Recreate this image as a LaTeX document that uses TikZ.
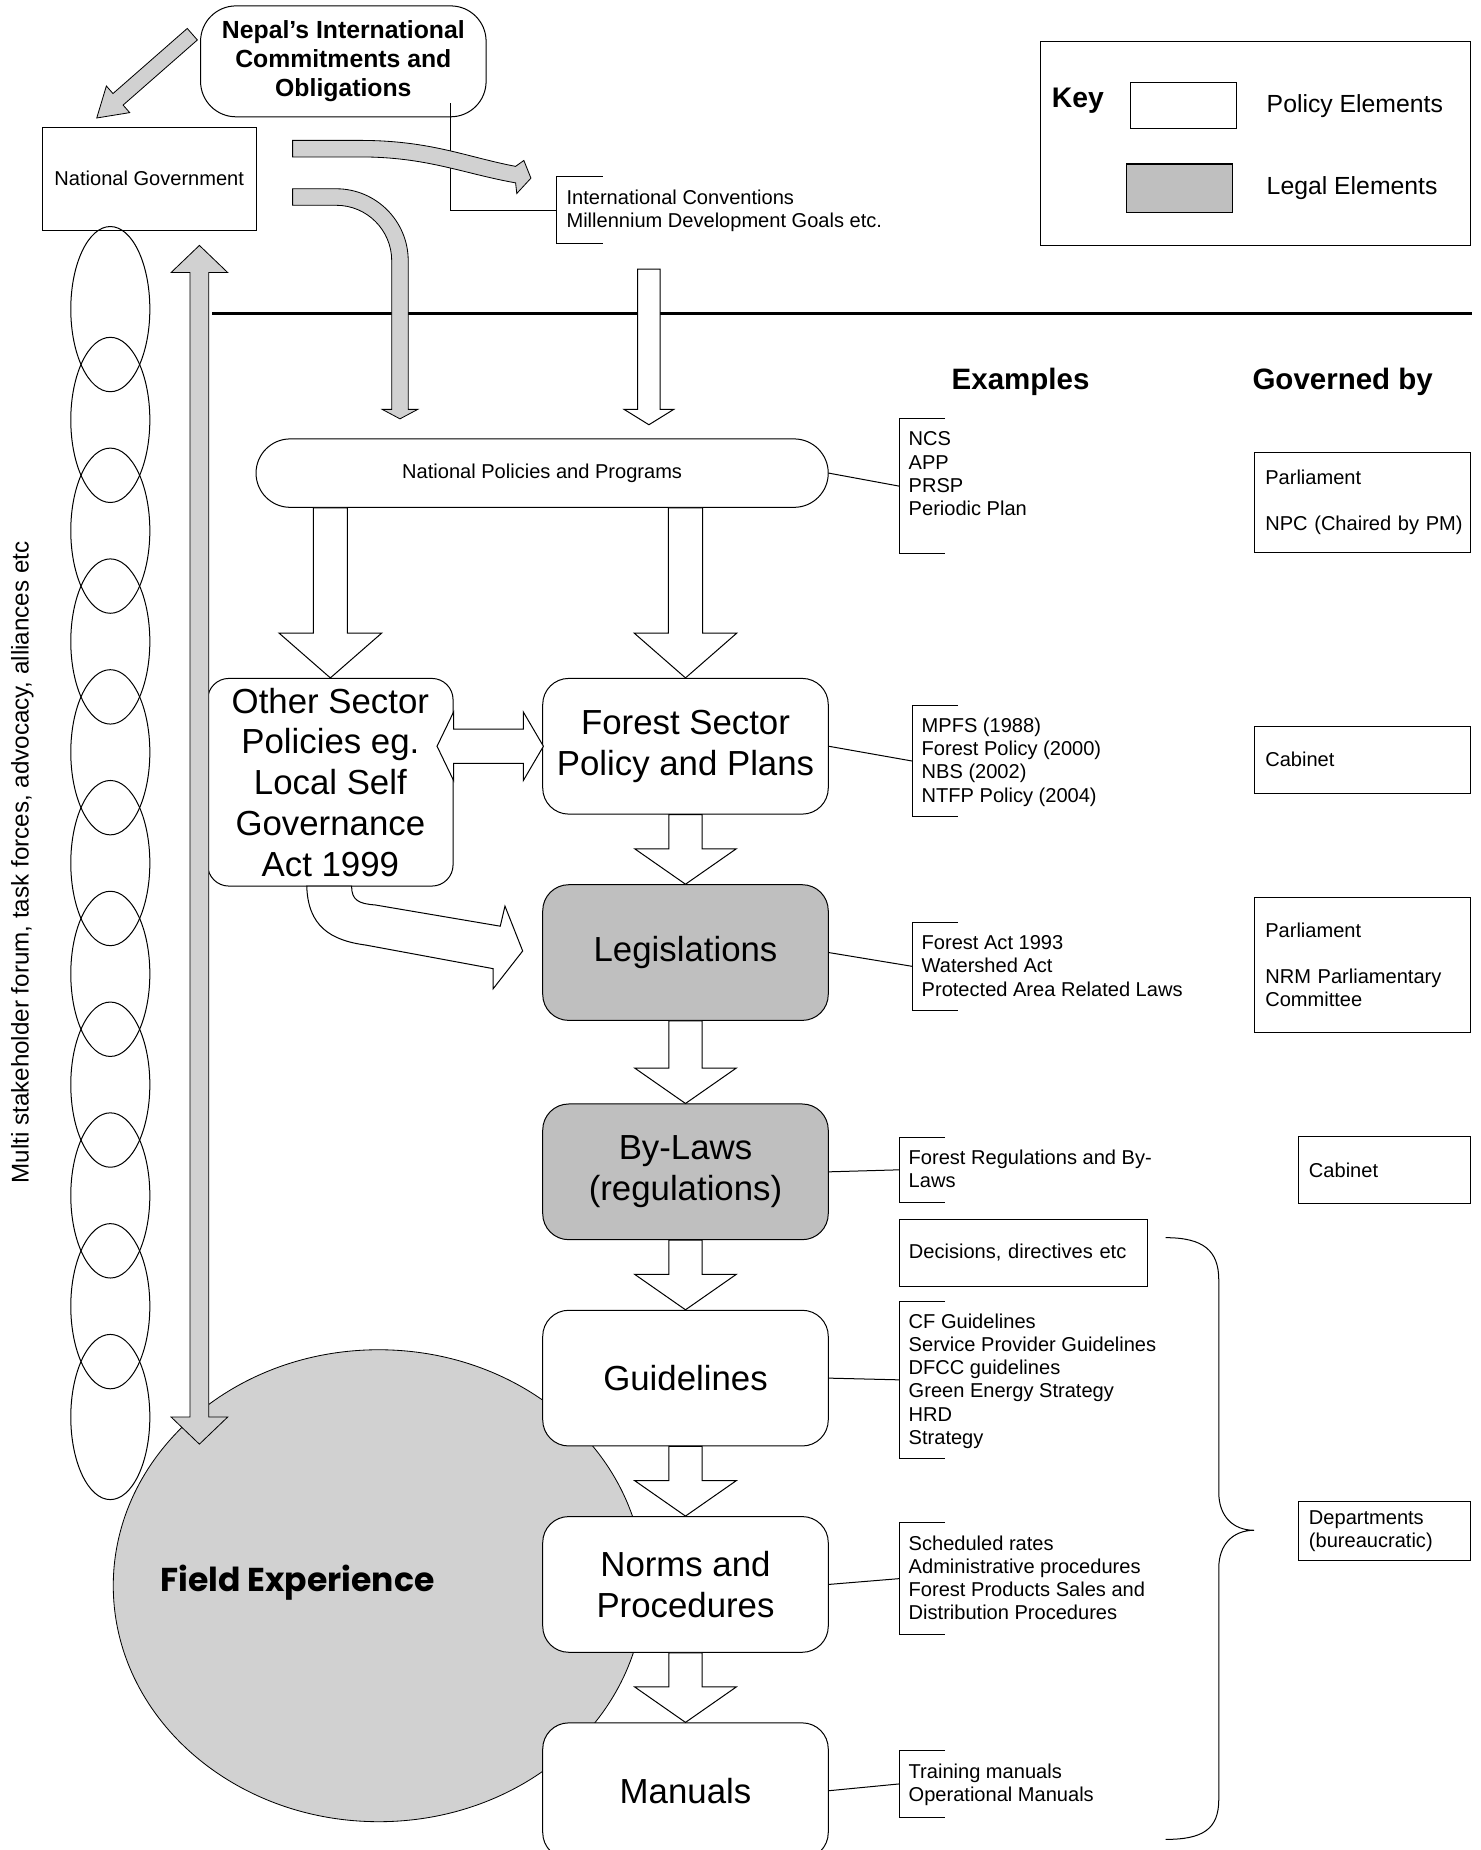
\documentclass[tikz,border=0pt]{standalone}
\usepackage{fontspec}
\setmainfont{Liberation Sans}
\newfontfamily\fieldfont{Poppins}
\usetikzlibrary{calc, positioning}
\definecolor{legalgray}{gray}{0.75}
\definecolor{hatchgray}{gray}{0.82}
\newcommand{\smallsize}{\fontsize{17}{19.6}\selectfont}
\newcommand{\bigsize}{\fontsize{29.5}{34.5}\selectfont}
\newcommand{\keysize}{\fontsize{21}{25}\selectfont}
\newcommand{\headsize}{\fontsize{25}{30}\selectfont\bfseries}
% list of examples, hung from the top of its bracket
\newcommand{\toplist}[2]{\parbox[c][#1][t]{320pt}{\raggedright\rule{0pt}{23pt}#2}}
\tikzstyle{policy} = [rectangle, rounded corners=22pt, minimum width=242pt,
    minimum height=115pt, inner xsep=4pt, align=center, draw=black,
    line width=0.85pt, fill=white, font=\bigsize]
\tikzstyle{legal} = [policy, fill=legalgray]
\tikzstyle{govbox} = [rectangle, draw=black, line width=0.85pt, align=left,
    font=\smallsize, inner xsep=9pt, inner ysep=0pt, anchor=north west]
\tikzstyle{exlist} = [rectangle, align=left, font=\smallsize, inner xsep=8pt,
    inner ysep=0pt, anchor=west]
\tikzstyle{thinline} = [draw=black, line width=0.85pt]
\tikzstyle{whitearrow} = [draw=black, line width=0.85pt, fill=white]
\tikzstyle{hatcharrow} = [draw=black, line width=0.7pt, fill=hatchgray]
% block arrow: [style]{from}{to}{shaft half width}{head half width}{head length}
\newcommand{\blockarrow}[6][]{%
  \draw[#1] ($(#2)!#4!90:(#3)$)
    -- ($($(#3)!#6!(#2)$)!#4!90:(#3)$)
    -- ($($(#3)!#6!(#2)$)!#5!90:(#3)$)
    -- (#3)
    -- ($($(#3)!#6!(#2)$)!#5!-90:(#3)$)
    -- ($($(#3)!#6!(#2)$)!#4!-90:(#3)$)
    -- ($(#2)!#4!-90:(#3)$) -- cycle;}

\begin{document}
\begin{tikzpicture}[x=1pt, y=1pt]
  \useasboundingbox (0,0) rectangle (1255,-1568);

  % field experience
  \draw[hatcharrow] (321,-1344) ellipse [x radius=225, y radius=200];
  \node (field) [font=\fieldfont\bfseries\fontsize{28}{32}\selectfont]
        at (252,-1341) {Field Experience};

  % stakeholder chain
  \foreach \k in {0,...,10}
    \draw[thinline] (93.5,{-262-93.9*\k}) ellipse [x radius=33.5, y radius=70];
  \node (forum) [rotate=90, font=\fontsize{20.5}{24}\selectfont] at (19,-731)
        {Multi stakeholder forum, task forces, advocacy, alliances etc};

  % top
  \node (nepal) [rectangle, rounded corners=30pt, draw=black, line width=0.85pt,
        fill=white, minimum width=242pt, minimum height=94pt, align=center,
        font=\fontsize{21}{24.5}\selectfont\bfseries] at (291,-52)
        {Nepal's International\\Commitments and\\Obligations};
  \node (natgov) [rectangle, draw=black, line width=0.85pt, minimum width=181pt,
        minimum height=87pt, font=\smallsize] at (126.5,-151.5) {National Government};
  \node (intl) [exlist] at (472,-178)
        {\toplist{56pt}{International Conventions\\Millennium Development Goals etc.}};

  % key
  \node (key) [rectangle, draw=black, line width=0.85pt, minimum width=364pt,
        minimum height=173pt] at (1064,-121.5) {};
  \node (keylabel) [font=\fontsize{24}{28}\selectfont\bfseries] at (913.5,-85) {Key};
  \node (keypol) [rectangle, draw=black, line width=0.85pt, fill=white,
        minimum width=90pt, minimum height=39pt] at (1003,-89.5) {};
  \node (keyleg) [rectangle, draw=black, line width=0.85pt, fill=legalgray,
        minimum width=90pt, minimum height=41pt] at (1000,-159.5) {};
  \node (keypoltxt) [right=25pt of keypol, inner sep=0pt, font=\keysize] {Policy Elements};
  \node (keylegtxt) [right=28pt of keyleg, inner sep=0pt, font=\keysize] {Legal Elements};

  \draw[line width=2.8pt] (180,-266) -- (1248,-266);

  \node (exhead) [font=\headsize] at (865,-324) {Examples};
  \node (govhead) [font=\headsize] at (1138,-324) {Governed by};

  % main column
  \node (pol) [policy, rounded corners=29pt, minimum width=485pt, minimum height=58pt,
        font=\smallsize] at (459.5,-401) {National Policies and Programs};
  \node (forest) [policy] at (581,-632.5) {Forest Sector\\Policy and Plans};
  \node (other) [policy, rounded corners=18pt, minimum width=208pt, minimum height=176pt,
        inner ysep=2pt] at (280,-663)
        {Other Sector\\Policies eg.\\Local Self\\Governance\\Act 1999};
  \node (legis)   [legal, below=59pt of forest] {Legislations};
  \node (bylaws)  [legal, below=70pt of legis] {By-Laws\\(regulations)};
  \node (guide)   [policy, below=59pt of bylaws] {Guidelines};
  \node (norms)   [policy, below=59pt of guide] {Norms and\\Procedures};
  \node (manuals) [policy, below=59pt of norms] {Manuals};

  % examples
  \node (exnp) [exlist] at (762,-412)
        {\toplist{114pt}{NCS\\APP\\PRSP\\Periodic Plan}};
  \node (exfs) [exlist] at (773,-645)
        {\toplist{94pt}{MPFS (1988)\\Forest Policy (2000)\\NBS (2002)\\NTFP Policy (2004)}};
  \node (exlg) [exlist] at (773,-819)
        {\toplist{74pt}{Forest Act 1993\\Watershed Act\\Protected Area Related Laws}};
  \node (exbl) [exlist] at (762,-991.5)
        {\toplist{55pt}{Forest Regulations and By-\\Laws}};
  \node (decide) [govbox, text width=194pt, minimum height=57pt, inner xsep=8pt]
        at (762,-1033) {Decisions, directives etc};
  \node (exgl) [exlist] at (762,-1169.5)
        {\toplist{133pt}{CF Guidelines\\Service Provider Guidelines\\DFCC guidelines\\Green Energy Strategy\\HRD\\Strategy}};
  \node (exnm) [exlist] at (762,-1338)
        {\toplist{94pt}{Scheduled rates\\Administrative procedures\\Forest Products Sales and\\Distribution Procedures}};
  \node (exmn) [exlist] at (762,-1512)
        {\toplist{56pt}{Training manuals\\Operational Manuals}};

  % governed by
  \node (gov1) [govbox, text width=165pt, minimum height=85pt] at (1063,-383)
        {Parliament\\[19.6pt]\mbox{NPC (Chaired by PM)}};
  \node (gov2) [govbox, text width=165pt, minimum height=57pt] at (1063,-615) {Cabinet};
  \node (gov3) [govbox, text width=165pt, minimum height=115pt] at (1063,-760)
        {Parliament\\[19.6pt]NRM Parliamentary\\Committee};
  \node (gov4) [govbox, text width=128pt, minimum height=57pt] at (1100,-963) {Cabinet};
  \node (gov5) [govbox, text width=128pt, minimum height=50pt] at (1100,-1272)
        {Departments\\(bureaucratic)};

  \foreach \n in {intl, exnp, exfs, exlg, exbl, exgl, exnm, exmn}
    \draw[thinline] ([xshift=39pt]\n.north west) -- (\n.north west)
          -- (\n.south west) -- ([xshift=39pt]\n.south west);
  \foreach \a/\b in {pol/exnp, forest/exfs, legis/exlg, bylaws/exbl,
                      guide/exgl, norms/exnm, manuals/exmn}
    \draw[thinline] (\a.east) -- (\b.west);
  \draw[thinline] ($(nepal.south east)+(-31,12)$) |- (intl.west);

  % brace
  \draw[thinline] (988,-1049) .. controls (1020,-1049) and (1033,-1060) .. (1033,-1085)
        -- (1033,-1265) .. controls (1033,-1285) and (1045,-1297) .. (1063,-1297)
        .. controls (1045,-1297) and (1033,-1309) .. (1033,-1329)
        -- (1033,-1525) .. controls (1033,-1550) and (1020,-1559) .. (988,-1559);

  % white block arrows
  \coordinate (pol-other) at (pol.south -| other.north);
  \coordinate (pol-forest) at (pol.south -| forest.north);
  \blockarrow[whitearrow]{pol-other}{other.north}{14.5pt}{43.5pt}{38pt}
  \blockarrow[whitearrow]{pol-forest}{forest.north}{14.5pt}{43.5pt}{38pt}
  \foreach \a/\b in {forest/legis, legis/bylaws, bylaws/guide, guide/norms, norms/manuals}
    \blockarrow[whitearrow]{\a.south}{\b.north}{14pt}{43pt}{30pt}
  \coordinate (conv-out) at (550,-228);
  \coordinate (pol-in) at (550,-360);
  \blockarrow[whitearrow]{conv-out}{pol-in}{9.5pt}{21pt}{13pt}

  \draw[whitearrow] let \p1=(other.east), \p2=(forest.west) in
        (\x1-14pt,\y2) -- (\x1,\y2+29pt) -- (\x1,\y2+14.5pt) -- (\x2-16pt,\y2+14.5pt)
        -- (\x2-16pt,\y2+29pt) -- (\x2+1pt,\y2) -- (\x2-16pt,\y2-29pt)
        -- (\x2-16pt,\y2-14.5pt) -- (\x1,\y2-14.5pt) -- (\x1,\y2-29pt) -- cycle;

  \draw[whitearrow] (298,-751) .. controls (298,-763) and (304,-766) .. (318,-767)
        -- (424,-785) -- (428,-768) -- (443,-806) -- (418,-838) -- (418,-821)
        -- (310,-801) .. controls (280,-797) and (261,-785) .. (260,-751) -- cycle;

  % hatched arrows
  \coordinate (nep-out) at (163,-29);
  \coordinate (ng-in) at (82,-100);
  \blockarrow[hatcharrow]{nep-out}{ng-in}{6.5pt}{15pt}{24pt}

  \draw[hatcharrow] (248,-119) -- (305,-119) .. controls (365,-119) and (395,-133) .. (437,-141)
        -- (444,-136) -- (450,-151) -- (438,-164) -- (437,-155)
        .. controls (392,-147) and (362,-133) .. (305,-133) -- (248,-133) -- cycle;

  \draw[hatcharrow] (248,-160) -- (285,-160) arc[start angle=90, end angle=0, radius=61]
        -- (346,-347) -- (354,-347) -- (339,-355) -- (324,-347) -- (332,-347)
        -- (332,-221) arc[start angle=0, end angle=90, radius=47] -- (248,-174) -- cycle;

  \draw[hatcharrow] (169,-208) -- (193,-231) -- (177,-231) -- (177,-1201) -- (193,-1201)
        -- (169,-1224) -- (145,-1201) -- (161,-1201) -- (161,-231) -- (145,-231) -- cycle;

\end{tikzpicture}
\end{document}
